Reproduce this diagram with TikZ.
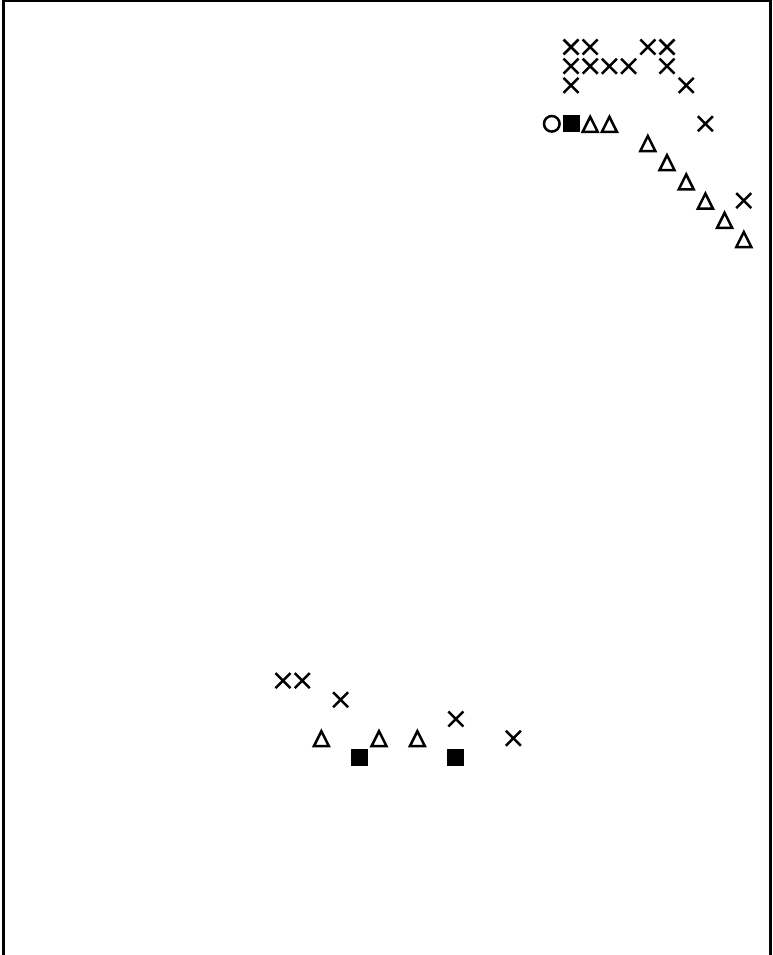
\documentclass[tikz,border=0pt]{standalone}
\begin{document}
\begin{tikzpicture}[x=1pt,y=-1pt,line width=2.5pt,
  xm/.pic={\draw (-7.5,-7.5)--(7.5,7.5) (-7.5,7.5)--(7.5,-7.5);},
  tr/.pic={\draw[line join=miter] (-7.5,7)--(0,-8)--(7.5,7)--cycle;},
  sq/.pic={\fill (-8.5,-8.5) rectangle (8.5,8.5);},
  ci/.pic={\draw (0,0) circle (7.8);}]
\useasboundingbox (0,0) rectangle (772,955);
\draw[line width=2.4pt] (3.5,956)--(3.5,1)--(770.5,1)--(770.5,956);
% crosses
\foreach \i/\j in {15/0,16/0,19/0,20/0,15/1,16/1,17/1,18/1,20/1,15/2,21/2,22/4,24/8,0/33,1/33,3/34,9/35,12/36}
  \pic at ({283+19.2*\i},{47+19.2*\j}) {xm};
% triangles
\foreach \i/\j in {16/4,17/4,19/5,20/6,21/7,22/8,23/9,24/10,2/36,5/36,7/36}
  \pic at ({283+19.2*\i},{47+19.2*\j+1}) {tr};
% squares
\foreach \i/\j in {15/4,4/37,9/37}
  \pic at ({283+19.2*\i},{47+19.2*\j}) {sq};
% circle
\pic at ({283+19.2*14},{47+19.2*4}) {ci};
\end{tikzpicture}
\end{document}
